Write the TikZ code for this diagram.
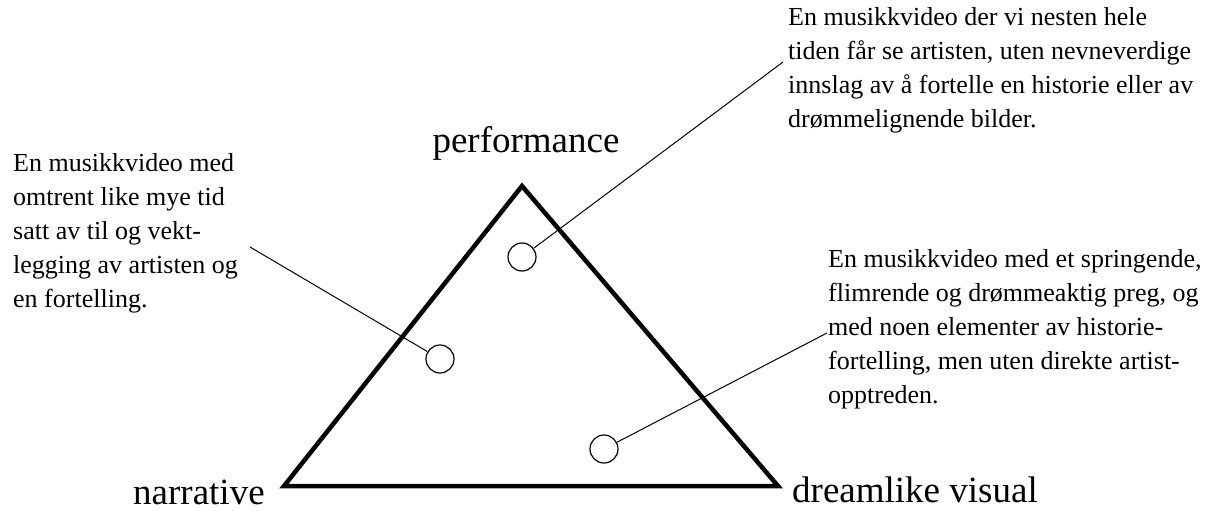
\documentclass[tikz,border=0pt]{standalone}
\usepackage{fontspec}
\setmainfont{Liberation Serif}
\usepackage{tikz}

\tikzset{
  corner/.style={font=\fontsize{37}{40}\selectfont, inner sep=0pt},
  note/.style={font=\fontsize{26}{34}\selectfont, align=left, inner sep=0pt, anchor=north west},
  spot/.style={circle, draw, line width=1.2pt, minimum size=28pt, inner sep=0pt},
  pointer/.style={line width=1pt}
}

\begin{document}
\begin{tikzpicture}[x=1pt, y=-1pt]
  \useasboundingbox (0,0) rectangle (1223,511);

  \coordinate (narr) at (284,486);
  \coordinate (perf) at (522,186);
  \coordinate (dream) at (778,486);
  \draw[line width=4.5pt, line join=miter] (narr) -- (perf) -- (dream) -- cycle;

  \node[corner, anchor=base] (lperf) at (526,152) {performance};
  \node[corner, anchor=base west] (lnarr) at (133,504) {narrative};
  \node[corner, anchor=base west] (ldream) at (792,502) {dreamlike visual};

  \node[note] (tleft) at (13,153) {En musikkvideo med\\omtrent like mye tid\\satt av til og vekt-\\legging av artisten og\\en fortelling.};
  \node[note] (ttop) at (788,7) {En musikkvideo der vi nesten hele\\tiden får se artisten, uten nevneverdige\\innslag av å fortelle en historie eller av\\drømmelignende bilder.};
  \node[note] (tright) at (828,249) {En musikkvideo med et springende,\\flimrende og drømmeaktig preg, og\\med noen elementer av historie-\\fortelling, men uten direkte artist-\\opptreden.};

  \node[spot] (sperf) at (522,257) {};
  \node[spot] (smix) at (440,359) {};
  \node[spot] (sdream) at (604,449) {};

  \coordinate (ptop) at (783,62);
  \coordinate (pleft) at (250,247);
  \coordinate (pright) at (827,333);
  \draw[pointer] (sperf) -- (ptop);
  \draw[pointer] (pleft) -- (smix);
  \draw[pointer] (sdream) -- (pright);
\end{tikzpicture}
\end{document}
